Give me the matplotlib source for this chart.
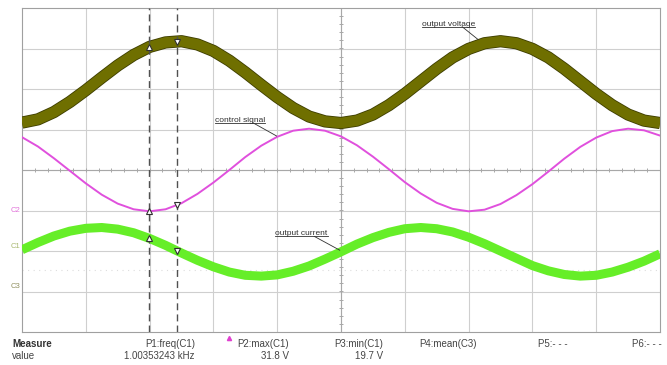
import numpy as np
import matplotlib.pyplot as plt
import matplotlib.patheffects as pe

# time axis in screen divisions (10 across)
t = np.arange(0, 10.01, 0.25)

# C1 output voltage (divisions)
v_out = [1.17, 1.25, 1.43, 1.68, 1.97, 2.28, 2.58, 2.84, 3.04, 3.15, 3.18,
         3.10, 2.94, 2.70, 2.41, 2.10, 1.80, 1.53, 1.32, 1.20, 1.16, 1.22,
         1.37, 1.60, 1.88, 2.19, 2.50, 2.78, 2.99, 3.13, 3.18, 3.13, 2.99,
         2.78, 2.50, 2.19, 1.88, 1.60, 1.37, 1.22, 1.16]
# C2 control signal
ctrl = [0.81, 0.58, 0.29, -0.02, -0.33, -0.61, -0.83, -0.97, -1.02, -0.97,
        -0.82, -0.59, -0.31, 0.00, 0.32, 0.60, 0.82, 0.97, 1.02, 0.97, 0.83,
        0.61, 0.33, 0.02, -0.30, -0.58, -0.81, -0.96, -1.02, -0.98, -0.84,
        -0.62, -0.35, -0.04, 0.28, 0.57, 0.80, 0.96, 1.02, 0.98, 0.85]
# C3 output current
i_out = [-1.97, -1.79, -1.63, -1.51, -1.44, -1.42, -1.46, -1.55, -1.69, -1.86,
         -2.05, -2.23, -2.39, -2.52, -2.60, -2.62, -2.59, -2.50, -2.37, -2.20,
         -2.02, -1.83, -1.67, -1.54, -1.45, -1.42, -1.45, -1.53, -1.66, -1.82,
         -2.00, -2.18, -2.36, -2.49, -2.58, -2.62, -2.60, -2.52, -2.40, -2.25,
         -2.07]

cursors = [1.99, 2.43]

meas_names = ['P1:freq(C1)', 'P2:max(C1)', 'P3:min(C1)', 'P4:mean(C3)', 'P5:- - -', 'P6:- - -']
meas_values = ['1.00353243 kHz', '31.8 V', '19.7 V', '', '', '']

W, H = 667, 365
plt.rcParams['font.family'] = ['Liberation Sans', 'DejaVu Sans']
fig = plt.figure(figsize=(W / 100, H / 100), dpi=100)
ax = fig.add_axes([22 / W, (H - 332) / H, (660 - 22) / W, (332 - 8) / H])
ax.set_xlim(0, 10)
ax.set_ylim(-4, 4)
ax.set_xticks([])
ax.set_yticks([])
for s in ax.spines.values():
    s.set_color('#a0a0a0')
    s.set_linewidth(0.8)

# grid
for gx in range(1, 10):
    ax.axvline(gx, color='#cfcfcf', lw=0.8, zorder=0)
for gy in range(-3, 4):
    ax.axhline(gy, color='#cfcfcf', lw=0.8, zorder=0)
ax.axvline(5, color='#a8a8a8', lw=0.8, zorder=0)
ax.axhline(0, color='#a8a8a8', lw=0.8, zorder=0)
mt = np.arange(0, 10.01, 0.2)
ax.plot(mt, np.zeros_like(mt), '|', color='#a8a8a8', ms=3, mew=0.7, zorder=0)
mv = np.arange(-4, 4.01, 0.2)
ax.plot(np.full_like(mv, 5), mv, '_', color='#a8a8a8', ms=3, mew=0.7, zorder=0)
ax.axhline(-2.47, color='#dddddd', lw=0.8, ls=(0, (1, 4)), zorder=0)

# traces
ax.plot(t, v_out, color='#6f6f00', lw=7.6, solid_capstyle='butt', zorder=3,
        path_effects=[pe.Stroke(linewidth=8.8, foreground='#3d3d00'), pe.Normal()])
ax.plot(t, i_out, color='#66ee28', lw=6.5, solid_capstyle='butt', zorder=3)
ax.plot(t, ctrl, color='#e050dd', lw=1.4, zorder=4)

# cursors
for k, cx in enumerate(cursors):
    ax.axvline(cx, color='#505050', lw=1.0, ls=(0, (5, 3)), zorder=5)
    mk = '^' if k == 0 else 'v'
    for tr in (v_out, ctrl, i_out):
        ax.plot(cx, np.interp(cx, t, tr), marker=mk, ms=5, mfc='white',
                mec='#303030', mew=0.8, zorder=6)

# trace labels (underlined, leader line from end of underline)
labels = [('output voltage', (7.15, 3.22), (6.69, 3.6)),
          ('control signal', (3.99, 0.84), (3.42, 1.23)),
          ('output current', (4.98, -1.98), (4.38, -1.58))]
txts = []
for name, xy, xyt in labels:
    tx = ax.text(xyt[0], xyt[1], name, fontsize=6, color='#303030',
                 ha='center', va='center', zorder=7)
    txts.append((tx, xy))
fig.canvas.draw()
inv = ax.transData.inverted()
for tx, xy in txts:
    bb = tx.get_window_extent()
    (x0, y0), (x1, _) = inv.transform([(bb.x0, bb.y0 + 1), (bb.x1, bb.y0 + 1)])
    ax.plot([x0, x1], [y0, y0], color='#303030', lw=0.6, zorder=7)
    ax.plot([x0 + 0.75 * (x1 - x0), xy[0]], [y0, xy[1]], color='#303030', lw=0.6, zorder=7)

# channel markers on the left
fig.text(15 / W, 1 - 210 / H, 'C2', fontsize=5.5, color='#e070d8', ha='center', va='center')
fig.text(15 / W, 1 - 247 / H, 'C1', fontsize=5.5, color='#a8b870', ha='center', va='center')
fig.text(15 / W, 1 - 287 / H, 'C3', fontsize=5.5, color='#909060', ha='center', va='center')

# measurement table
fs = 7
fig.text(12 / W, 1 - 344 / H, 'Measure', fontsize=fs, fontweight='bold', color='#333333', va='center')
fig.text(12 / W, 1 - 356 / H, 'value', fontsize=fs, color='#444444', va='center')
right_edges = [195, 289, 383, 477, 568, 662]
for name, val, rx in zip(meas_names, meas_values, right_edges):
    fig.text(rx / W, 1 - 344 / H, name, fontsize=fs, color='#444444', ha='right', va='center')
    if val:
        fig.text(rx / W, 1 - 356 / H, val, fontsize=fs, color='#444444', ha='right', va='center')
fig.add_artist(plt.Line2D([229 / W], [1 - 338 / H], marker='^', ms=3, color='#e040d0',
                          transform=fig.transFigure))

fig.savefig('out.png', dpi=100)
